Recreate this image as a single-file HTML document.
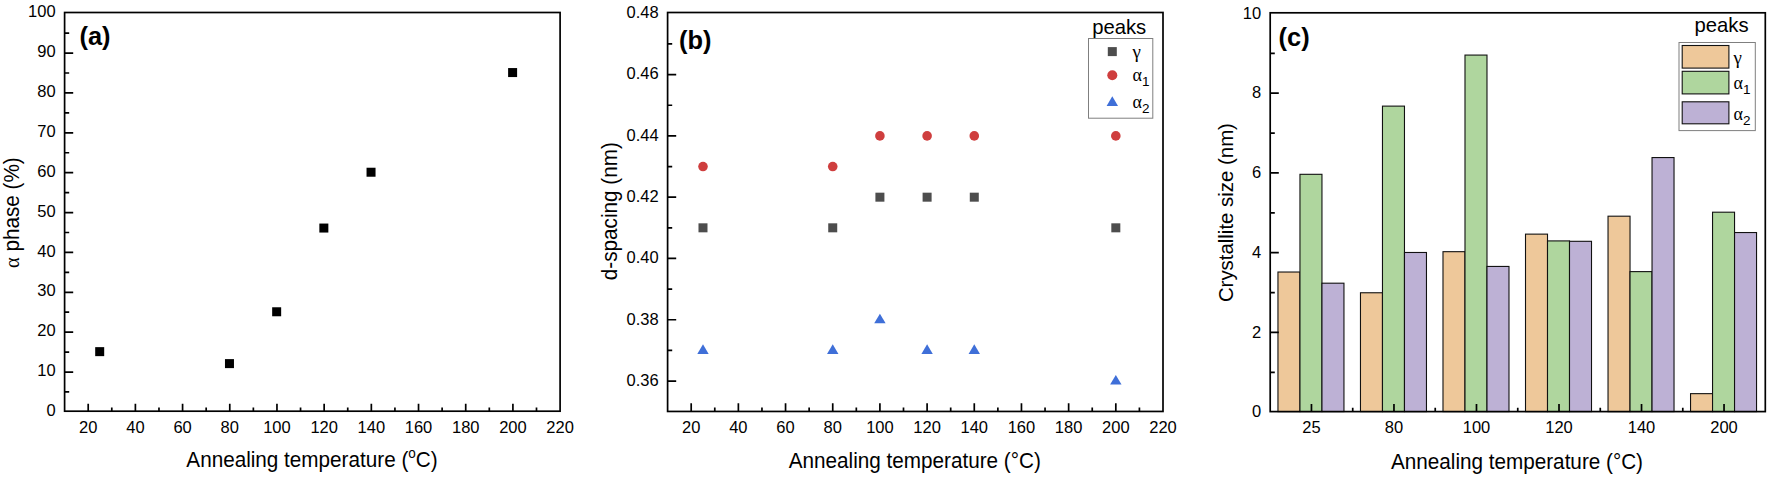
<!DOCTYPE html>
<html lang="en"><head><meta charset="utf-8"><title>Figure</title>
<style>
html,body{margin:0;padding:0;background:#fff;}
body{width:1772px;height:477px;overflow:hidden;}
svg{display:block;font-family:"Liberation Sans", sans-serif;fill:#000;}
svg text{fill:#000;}
</style></head><body>
<svg width="1772" height="477" viewBox="0 0 1772 477">
<rect width="1772" height="477" fill="#fff"/>
<rect x="64.6" y="12.5" width="495.5" height="398.7" fill="none" stroke="#000" stroke-width="1.7"/>
<path d="M88.2 411.2v-7.4M135.39 411.2v-7.4M182.58 411.2v-7.4M229.77 411.2v-7.4M276.96 411.2v-7.4M324.15 411.2v-7.4M371.34 411.2v-7.4M418.53 411.2v-7.4M465.72 411.2v-7.4M512.91 411.2v-7.4M111.79 411.2v-3.8M158.98 411.2v-3.8M206.17 411.2v-3.8M253.36 411.2v-3.8M300.55 411.2v-3.8M347.74 411.2v-3.8M394.93 411.2v-3.8M442.12 411.2v-3.8M489.31 411.2v-3.8M536.5 411.2v-3.8" stroke="#000" stroke-width="1.7" fill="none"/>
<text x="88.2" y="432.8" text-anchor="middle" font-size="16.5">20</text>
<text x="135.39" y="432.8" text-anchor="middle" font-size="16.5">40</text>
<text x="182.58" y="432.8" text-anchor="middle" font-size="16.5">60</text>
<text x="229.77" y="432.8" text-anchor="middle" font-size="16.5">80</text>
<text x="276.96" y="432.8" text-anchor="middle" font-size="16.5">100</text>
<text x="324.15" y="432.8" text-anchor="middle" font-size="16.5">120</text>
<text x="371.34" y="432.8" text-anchor="middle" font-size="16.5">140</text>
<text x="418.53" y="432.8" text-anchor="middle" font-size="16.5">160</text>
<text x="465.72" y="432.8" text-anchor="middle" font-size="16.5">180</text>
<text x="512.91" y="432.8" text-anchor="middle" font-size="16.5">200</text>
<text x="560.1" y="432.8" text-anchor="middle" font-size="16.5">220</text>
<path d="M64.6 372.03h8.6M64.6 332.16h8.6M64.6 292.29h8.6M64.6 252.42h8.6M64.6 212.55h8.6M64.6 172.68h8.6M64.6 132.81h8.6M64.6 92.94h8.6M64.6 53.07h8.6M64.6 391.96h4.6M64.6 352.09h4.6M64.6 312.22h4.6M64.6 272.35h4.6M64.6 232.48h4.6M64.6 192.61h4.6M64.6 152.74h4.6M64.6 112.87h4.6M64.6 73h4.6M64.6 33.13h4.6" stroke="#000" stroke-width="1.7" fill="none"/>
<text x="55.6" y="416" text-anchor="end" font-size="16.5">0</text>
<text x="55.6" y="376.13" text-anchor="end" font-size="16.5">10</text>
<text x="55.6" y="336.26" text-anchor="end" font-size="16.5">20</text>
<text x="55.6" y="296.39" text-anchor="end" font-size="16.5">30</text>
<text x="55.6" y="256.52" text-anchor="end" font-size="16.5">40</text>
<text x="55.6" y="216.65" text-anchor="end" font-size="16.5">50</text>
<text x="55.6" y="176.78" text-anchor="end" font-size="16.5">60</text>
<text x="55.6" y="136.91" text-anchor="end" font-size="16.5">70</text>
<text x="55.6" y="97.04" text-anchor="end" font-size="16.5">80</text>
<text x="55.6" y="57.17" text-anchor="end" font-size="16.5">90</text>
<text x="55.6" y="17.3" text-anchor="end" font-size="16.5">100</text>
<rect x="95.19" y="347.14" width="9" height="9" fill="#000"/>
<rect x="224.97" y="359.11" width="9" height="9" fill="#000"/>
<rect x="272.16" y="307.27" width="9" height="9" fill="#000"/>
<rect x="319.35" y="223.55" width="9" height="9" fill="#000"/>
<rect x="366.54" y="167.73" width="9" height="9" fill="#000"/>
<rect x="508.11" y="68.06" width="9" height="9" fill="#000"/>
<text transform="translate(312,467.3) scale(0.965,1)" text-anchor="middle" font-size="21.45">Annealing temperature (<tspan font-size="14" dy="-9">o</tspan><tspan dy="9">C)</tspan></text>
<text transform="translate(19,212.6) rotate(-90) scale(0.965,1)" text-anchor="middle" font-size="21.45"><tspan font-family='"Liberation Serif", "DejaVu Serif", serif' font-size="21">α</tspan> phase (%)</text>
<text x="79.5" y="45.3" font-size="25.4" font-weight="bold">(a)</text>
<rect x="667.6" y="12.5" width="495.4" height="398.95" fill="none" stroke="#000" stroke-width="1.7"/>
<path d="M691.19 411.45v-8.2M738.37 411.45v-8.2M785.55 411.45v-8.2M832.73 411.45v-8.2M879.91 411.45v-8.2M927.1 411.45v-8.2M974.28 411.45v-8.2M1021.46 411.45v-8.2M1068.64 411.45v-8.2M1115.82 411.45v-8.2M714.78 411.45v-4.0M761.96 411.45v-4.0M809.14 411.45v-4.0M856.32 411.45v-4.0M903.5 411.45v-4.0M950.69 411.45v-4.0M997.87 411.45v-4.0M1045.05 411.45v-4.0M1092.23 411.45v-4.0M1139.41 411.45v-4.0" stroke="#000" stroke-width="1.7" fill="none"/>
<text x="691.19" y="432.8" text-anchor="middle" font-size="16.5">20</text>
<text x="738.37" y="432.8" text-anchor="middle" font-size="16.5">40</text>
<text x="785.55" y="432.8" text-anchor="middle" font-size="16.5">60</text>
<text x="832.73" y="432.8" text-anchor="middle" font-size="16.5">80</text>
<text x="879.91" y="432.8" text-anchor="middle" font-size="16.5">100</text>
<text x="927.1" y="432.8" text-anchor="middle" font-size="16.5">120</text>
<text x="974.28" y="432.8" text-anchor="middle" font-size="16.5">140</text>
<text x="1021.46" y="432.8" text-anchor="middle" font-size="16.5">160</text>
<text x="1068.64" y="432.8" text-anchor="middle" font-size="16.5">180</text>
<text x="1115.82" y="432.8" text-anchor="middle" font-size="16.5">200</text>
<text x="1163" y="432.8" text-anchor="middle" font-size="16.5">220</text>
<path d="M667.6 381.05h8.6M667.6 319.76h8.6M667.6 258.47h8.6M667.6 197.18h8.6M667.6 135.88h8.6M667.6 74.59h8.6M667.6 350.41h4.6M667.6 289.12h4.6M667.6 227.82h4.6M667.6 166.53h4.6M667.6 105.24h4.6M667.6 43.95h4.6" stroke="#000" stroke-width="1.7" fill="none"/>
<text x="658.6" y="385.85" text-anchor="end" font-size="16.5">0.36</text>
<text x="658.6" y="324.56" text-anchor="end" font-size="16.5">0.38</text>
<text x="658.6" y="263.27" text-anchor="end" font-size="16.5">0.40</text>
<text x="658.6" y="201.98" text-anchor="end" font-size="16.5">0.42</text>
<text x="658.6" y="140.68" text-anchor="end" font-size="16.5">0.44</text>
<text x="658.6" y="79.39" text-anchor="end" font-size="16.5">0.46</text>
<text x="658.6" y="18.1" text-anchor="end" font-size="16.5">0.48</text>
<rect x="698.49" y="223.32" width="9" height="9" fill="#4d4d4d"/>
<rect x="828.23" y="223.32" width="9" height="9" fill="#4d4d4d"/>
<rect x="875.41" y="192.68" width="9" height="9" fill="#4d4d4d"/>
<rect x="922.6" y="192.68" width="9" height="9" fill="#4d4d4d"/>
<rect x="969.78" y="192.68" width="9" height="9" fill="#4d4d4d"/>
<rect x="1111.32" y="223.32" width="9" height="9" fill="#4d4d4d"/>
<circle cx="702.99" cy="166.53" r="4.8" fill="#cf3e3e"/>
<circle cx="832.73" cy="166.53" r="4.8" fill="#cf3e3e"/>
<circle cx="879.91" cy="135.88" r="4.8" fill="#cf3e3e"/>
<circle cx="927.1" cy="135.88" r="4.8" fill="#cf3e3e"/>
<circle cx="974.28" cy="135.88" r="4.8" fill="#cf3e3e"/>
<circle cx="1115.82" cy="135.88" r="4.8" fill="#cf3e3e"/>
<path d="M702.99 344.36L708.69 353.96H697.29Z" fill="#3f6fd8"/>
<path d="M832.73 344.36L838.43 353.96H827.03Z" fill="#3f6fd8"/>
<path d="M879.91 313.71L885.61 323.31H874.21Z" fill="#3f6fd8"/>
<path d="M927.1 344.36L932.8 353.96H921.4Z" fill="#3f6fd8"/>
<path d="M974.28 344.36L979.98 353.96H968.58Z" fill="#3f6fd8"/>
<path d="M1115.82 375.01L1121.52 384.61H1110.12Z" fill="#3f6fd8"/>
<text transform="translate(914.8,468.4) scale(0.965,1)" text-anchor="middle" font-size="21.45">Annealing temperature (°C)</text>
<text transform="translate(617.4,211.2) rotate(-90) scale(0.965,1)" text-anchor="middle" font-size="21.45">d-spacing (nm)</text>
<text x="679" y="49" font-size="25.4" font-weight="bold">(b)</text>
<text x="1119.2" y="34" text-anchor="middle" font-size="20.3">peaks</text>
<rect x="1088.5" y="38.5" width="64.3" height="79.7" fill="#fff" stroke="#7f7f7f" stroke-width="1"/>
<rect x="1107.8" y="47.1" width="9" height="9" fill="#4d4d4d"/>
<circle cx="1112.3" cy="75.2" r="5" fill="#cf3e3e"/>
<path d="M1112.3 96.35L1118 105.95H1106.6Z" fill="#3f6fd8"/>
<text x="1132.5" y="58" font-size="19" font-family='"Liberation Serif", "DejaVu Serif", serif'>γ</text>
<text x="1132.5" y="81" font-size="18" font-family='"Liberation Serif", "DejaVu Serif", serif'>α<tspan font-family='"Liberation Sans", sans-serif' font-size="13.5" dy="5">1</tspan></text>
<text x="1132.5" y="107.5" font-size="18" font-family='"Liberation Serif", "DejaVu Serif", serif'>α<tspan font-family='"Liberation Sans", sans-serif' font-size="13.5" dy="5">2</tspan></text>
<rect x="1277.96" y="272.02" width="22" height="139.58" fill="#eec89a" stroke="#111" stroke-width="1.1"/>
<rect x="1299.96" y="174.31" width="22" height="237.29" fill="#afd69e" stroke="#111" stroke-width="1.1"/>
<rect x="1321.96" y="283.19" width="22" height="128.41" fill="#bdb1d5" stroke="#111" stroke-width="1.1"/>
<rect x="1360.47" y="292.76" width="22" height="118.84" fill="#eec89a" stroke="#111" stroke-width="1.1"/>
<rect x="1382.47" y="106.12" width="22" height="305.48" fill="#afd69e" stroke="#111" stroke-width="1.1"/>
<rect x="1404.47" y="252.48" width="22" height="159.12" fill="#bdb1d5" stroke="#111" stroke-width="1.1"/>
<rect x="1442.99" y="251.68" width="22" height="159.92" fill="#eec89a" stroke="#111" stroke-width="1.1"/>
<rect x="1464.99" y="55.07" width="22" height="356.53" fill="#afd69e" stroke="#111" stroke-width="1.1"/>
<rect x="1486.99" y="266.44" width="22" height="145.16" fill="#bdb1d5" stroke="#111" stroke-width="1.1"/>
<rect x="1525.51" y="234.13" width="22" height="177.47" fill="#eec89a" stroke="#111" stroke-width="1.1"/>
<rect x="1547.51" y="240.91" width="22" height="170.69" fill="#afd69e" stroke="#111" stroke-width="1.1"/>
<rect x="1569.51" y="241.31" width="22" height="170.29" fill="#bdb1d5" stroke="#111" stroke-width="1.1"/>
<rect x="1608.03" y="216.19" width="22" height="195.41" fill="#eec89a" stroke="#111" stroke-width="1.1"/>
<rect x="1630.03" y="271.62" width="22" height="139.98" fill="#afd69e" stroke="#111" stroke-width="1.1"/>
<rect x="1652.03" y="157.56" width="22" height="254.04" fill="#bdb1d5" stroke="#111" stroke-width="1.1"/>
<rect x="1690.54" y="393.65" width="22" height="17.95" fill="#eec89a" stroke="#111" stroke-width="1.1"/>
<rect x="1712.54" y="212.2" width="22" height="199.4" fill="#afd69e" stroke="#111" stroke-width="1.1"/>
<rect x="1734.54" y="232.54" width="22" height="179.06" fill="#bdb1d5" stroke="#111" stroke-width="1.1"/>
<rect x="1270.2" y="12.8" width="495.1" height="398.8" fill="none" stroke="#000" stroke-width="1.7"/>
<text x="1311.46" y="433.3" text-anchor="middle" font-size="16.5">25</text>
<text x="1393.97" y="433.3" text-anchor="middle" font-size="16.5">80</text>
<text x="1476.49" y="433.3" text-anchor="middle" font-size="16.5">100</text>
<text x="1559.01" y="433.3" text-anchor="middle" font-size="16.5">120</text>
<text x="1641.53" y="433.3" text-anchor="middle" font-size="16.5">140</text>
<text x="1724.04" y="433.3" text-anchor="middle" font-size="16.5">200</text>
<path d="M1311.46 411.6v-7.5M1393.97 411.6v-7.5M1352.72 411.6v-3.8M1476.49 411.6v-7.5M1435.23 411.6v-3.8M1559.01 411.6v-7.5M1517.75 411.6v-3.8M1641.53 411.6v-7.5M1600.27 411.6v-3.8M1724.04 411.6v-7.5M1682.78 411.6v-3.8" stroke="#000" stroke-width="1.7" fill="none"/>
<path d="M1270.2 332.44h8.6M1270.2 252.68h8.6M1270.2 172.92h8.6M1270.2 93.16h8.6M1270.2 372.32h4.6M1270.2 292.56h4.6M1270.2 212.8h4.6M1270.2 133.04h4.6M1270.2 53.28h4.6" stroke="#000" stroke-width="1.7" fill="none"/>
<text x="1261.2" y="417.3" text-anchor="end" font-size="16.5">0</text>
<text x="1261.2" y="337.54" text-anchor="end" font-size="16.5">2</text>
<text x="1261.2" y="257.78" text-anchor="end" font-size="16.5">4</text>
<text x="1261.2" y="178.02" text-anchor="end" font-size="16.5">6</text>
<text x="1261.2" y="98.26" text-anchor="end" font-size="16.5">8</text>
<text x="1261.2" y="18.5" text-anchor="end" font-size="16.5">10</text>
<text transform="translate(1517,468.9) scale(0.965,1)" text-anchor="middle" font-size="21.45">Annealing temperature (°C)</text>
<text transform="translate(1233,212.6) rotate(-90) scale(0.965,1)" text-anchor="middle" font-size="21.14">Crystallite size (nm)</text>
<text x="1278.6" y="46" font-size="25.4" font-weight="bold">(c)</text>
<text x="1721.5" y="32.3" text-anchor="middle" font-size="20.3">peaks</text>
<rect x="1679" y="42.5" width="76.3" height="88.1" fill="#fff" stroke="#7f7f7f" stroke-width="1"/>
<rect x="1682.2" y="45.5" width="46.7" height="22.6" fill="#eec89a" stroke="#111" stroke-width="1.1"/>
<rect x="1682.2" y="71.3" width="46.7" height="22.6" fill="#afd69e" stroke="#111" stroke-width="1.1"/>
<rect x="1682.2" y="101.8" width="46.7" height="22" fill="#bdb1d5" stroke="#111" stroke-width="1.1"/>
<text x="1733.6" y="63.7" font-size="19" font-family='"Liberation Serif", "DejaVu Serif", serif'>γ</text>
<text x="1733.6" y="88.6" font-size="18" font-family='"Liberation Serif", "DejaVu Serif", serif'>α<tspan font-family='"Liberation Sans", sans-serif' font-size="13.5" dy="5">1</tspan></text>
<text x="1733.6" y="120.4" font-size="18" font-family='"Liberation Serif", "DejaVu Serif", serif'>α<tspan font-family='"Liberation Sans", sans-serif' font-size="13.5" dy="5">2</tspan></text>
</svg>
</body></html>
